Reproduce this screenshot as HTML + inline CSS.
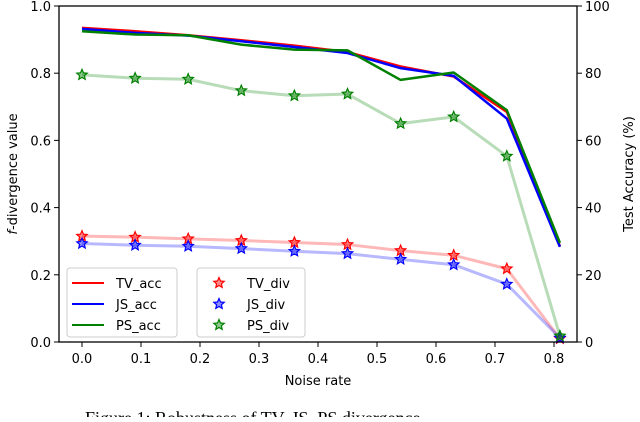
<!DOCTYPE html>
<html><head><meta charset="utf-8"><style>
body{margin:0;background:#fff;width:640px;height:417px;overflow:hidden}
svg text{font-family:"DejaVu Sans","Liberation Sans",sans-serif;font-size:13px;fill:#000}
</style></head><body>
<svg id="c" width="640" height="417" xmlns="http://www.w3.org/2000/svg"></svg>
<script>
const noise=[0,0.09,0.18,0.27,0.36,0.45,0.54,0.63,0.72,0.81];
const tvAcc=[93.5,92.5,91.3,89.8,88.2,86.3,82,79,68.5,28.5];
const jsAcc=[93.2,92,91.2,89.5,87.8,86,81.5,79.2,66.5,28.3];
const psAcc=[92.5,91.5,91.3,88.5,87,86.8,78,80.2,69,29.5];
const tvDiv=[0.315,0.312,0.307,0.302,0.296,0.290,0.272,0.258,0.218,0.01];
const jsDiv=[0.293,0.288,0.285,0.278,0.270,0.263,0.246,0.230,0.172,0.012];
const psDiv=[0.795,0.785,0.782,0.748,0.733,0.738,0.650,0.670,0.553,0.018];
const xTicks=[0,0.1,0.2,0.3,0.4,0.5,0.6,0.7,0.8];
const yLTicks=[0,0.2,0.4,0.6,0.8,1.0];
const yRTicks=[0,20,40,60,80,100];
const L=59,R=577,T=6,B=342;
const sx=v=>82+v*590;
const syL=v=>B-v*(B-T);
const syR=v=>B-v/100*(B-T);
const svg=document.getElementById('c');
const NS='http://www.w3.org/2000/svg';
function mk(tag,at,parent){const e=document.createElementNS(NS,tag);for(const k in at)e.setAttribute(k,at[k]);(parent||svg).appendChild(e);return e;}
function star(cx,cy,r){let p=[];for(let i=0;i<10;i++){const a=-Math.PI/2+i*Math.PI/5;const rr=i%2?r*0.45:r;p.push((cx+rr*Math.cos(a)).toFixed(1)+','+(cy+rr*Math.sin(a)).toFixed(1));}return p.join(' ');}
function poly(xs,ys,fx,fy,color,w,op){return mk('polyline',{points:xs.map((x,i)=>sx(x)+','+fy(ys[i])).join(' '),fill:'none',stroke:color,'stroke-width':w,'stroke-opacity':op,'stroke-linejoin':'round'});}
[[tvDiv,'red','tv-div-line'],[jsDiv,'blue','js-div-line'],[psDiv,'green','ps-div-line']].forEach(([d,c,n])=>{
 const l=poly(noise,d,sx,syL,c,3,0.28);
 
 
 noise.forEach((x,i)=>{const s=mk('polygon',{points:star(sx(x),syL(d[i]),5.5),fill:c,'fill-opacity':0.45,stroke:c,'stroke-width':1.2});
  
  });
});
[[tvAcc,'red','tv-acc-line'],[jsAcc,'blue','js-acc-line'],[psAcc,'green','ps-acc-line']].forEach(([d,c,n])=>{
 const l=poly(noise,d,sx,syR,c,2.5,1);
 
 
});
const fr=mk('rect',{x:L,y:T,width:R-L,height:B-T,fill:'none',stroke:'#000','stroke-width':1.3});


xTicks.forEach(v=>{mk('line',{x1:sx(v),x2:sx(v),y1:B,y2:B+5,stroke:'#000'});
 const t=mk('text',{x:sx(v),y:B+21,'text-anchor':'middle'});t.textContent=v.toFixed(1);
 
 });
yLTicks.forEach(v=>{mk('line',{x1:L-5,x2:L,y1:syL(v),y2:syL(v),stroke:'#000'});
 const t=mk('text',{x:L-8,y:syL(v)+5,'text-anchor':'end'});t.textContent=v.toFixed(1);
 
 });
yRTicks.forEach(v=>{mk('line',{x1:R,x2:R+5,y1:syR(v),y2:syR(v),stroke:'#000'});
 const t=mk('text',{x:R+8,y:syR(v)+5});t.textContent=v;
 
 });
let t=mk('text',{x:318,y:385,'text-anchor':'middle'});t.textContent='Noise rate';

t=mk('text',{transform:'translate(17,174) rotate(-90)','text-anchor':'middle'});t.innerHTML='<tspan font-style="italic">f</tspan>-divergence value';

t=mk('text',{transform:'translate(633,174) rotate(-90)','text-anchor':'middle'});t.textContent='Test Accuracy (%)';

const lg1=mk('rect',{x:67,y:268,width:110,height:69,rx:3,fill:'#fff','fill-opacity':0.8,stroke:'#ccc'});

const lg2=mk('rect',{x:197,y:268,width:108,height:69,rx:3,fill:'#fff','fill-opacity':0.8,stroke:'#ccc'});

[['TV_acc','red'],['JS_acc','blue'],['PS_acc','green']].forEach(([n,c],i)=>{const y=283+i*21;
 mk('line',{x1:72,x2:104,y1:y,y2:y,stroke:c,'stroke-width':2});
 const tt=mk('text',{x:116,y:y+5});tt.textContent=n;
 });
[['TV_div','red'],['JS_div','blue'],['PS_div','green']].forEach(([n,c],i)=>{const y=283+i*21;
 mk('polygon',{points:star(219,y,5.5),fill:c,'fill-opacity':0.45,stroke:c,'stroke-width':1.2});
 const tt=mk('text',{x:247,y:y+5});tt.textContent=n;
 });
t=mk('text',{x:85,y:424,style:'font-family:"Liberation Serif",serif;font-size:18px'});t.textContent='Figure 1: Robustness of TV, JS, PS divergence';

</script>
</body></html>
